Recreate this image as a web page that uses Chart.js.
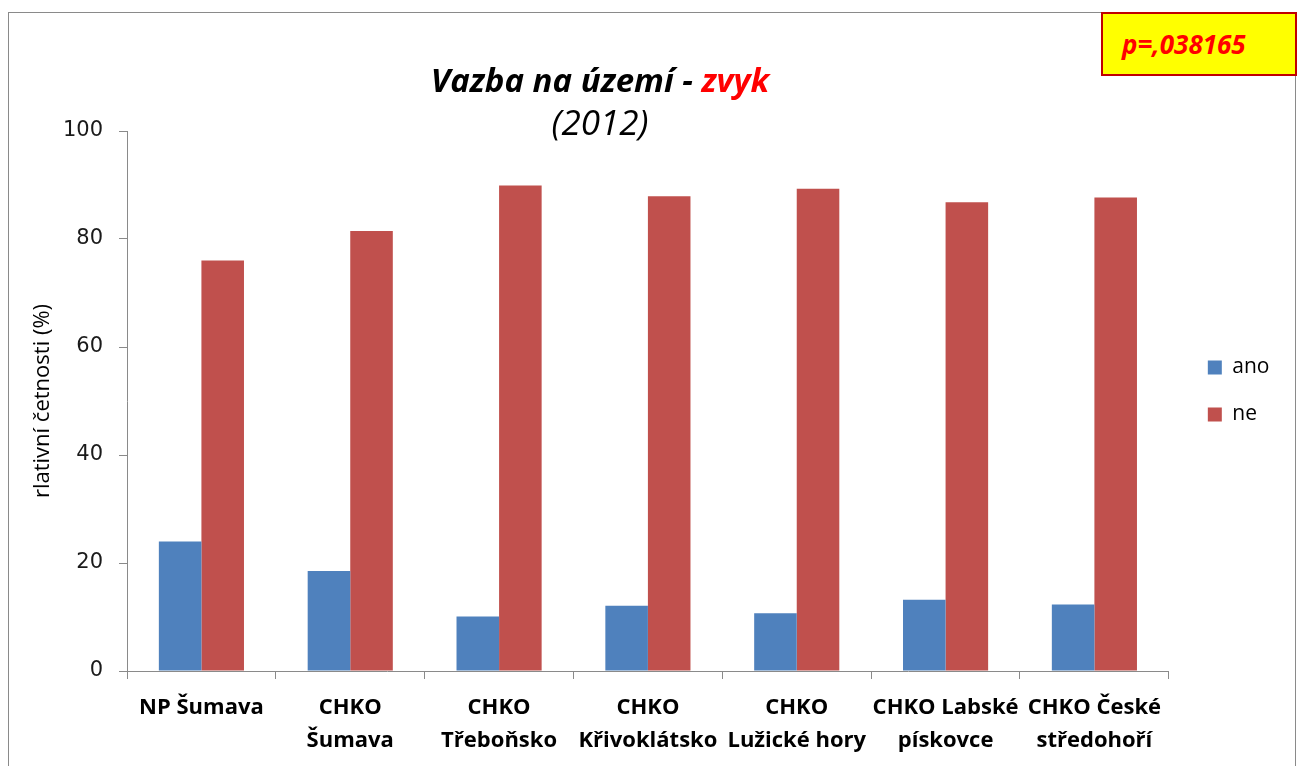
<!DOCTYPE html>
<html>
<head>
<meta charset="utf-8">
<script src="https://cdn.jsdelivr.net/npm/chart.js@4"></script>
<style>
  html, body { margin: 0; padding: 0; background: #fff; }
  #wrap { position: relative; width: 1304px; height: 766px; overflow: hidden; background: #fff; }
  #frame { position: absolute; left: 8px; top: 12px; width: 1288px; height: 800px; border: 1px solid #8a8a8a; box-sizing: border-box; }
  #c { position: absolute; left: 0; top: 0; }
  #title1 { position: absolute; left: 300px; width: 600px; top: 63px; text-align: center; font: italic 700 33px/33px "Open Sans"; color: #000; white-space: nowrap; }
  #title1 .red { color: #ff0000; }
  #title2 { position: absolute; left: 300px; width: 600px; top: 104px; text-align: center; font: italic 400 35px/35px "Open Sans"; color: #000; white-space: nowrap; }
  #pbox { position: absolute; left: 1101px; top: 12px; width: 196px; height: 64px; box-sizing: border-box; background: #ffff00; border: 2px solid #c00000; font: italic 700 26px/60px "Open Sans"; color: #ff0000; padding-left: 19px; white-space: nowrap; }
</style>
</head>
<body>
<div id="wrap">
  <div id="frame"></div>
  <canvas id="c" width="1304" height="766"></canvas>
  <div id="title1">Vazba na území - <span class="red">zvyk</span></div>
  <div id="title2">(2012)</div>
  <div id="pbox">p=,038165</div>
</div>
<script>
const categories = [
  ["NP Šumava"],
  ["CHKO", "Šumava"],
  ["CHKO", "Třeboňsko"],
  ["CHKO", "Křivoklátsko"],
  ["CHKO", "Lužické hory"],
  ["CHKO Labské", "pískovce"],
  ["CHKO České", "středohoří"]
];
const seriesNames = ["ano", "ne"];
const anoValues = [24.0, 18.5, 10.1, 12.1, 10.7, 13.2, 12.3];
const neValues  = [76.0, 81.5, 89.9, 87.9, 89.3, 86.8, 87.7];
const yTicks = [0, 20, 40, 60, 80, 100];

const nudgeLegend = {
  id: 'nudgeLegend',
  afterLayout(chart) {
    const lg = chart.legend;
    if (!lg) return;
    lg.left += 13; lg.right += 13;
    lg.top -= 10; lg.bottom -= 10;
  }
};

new Chart(document.getElementById('c'), {
  type: 'bar',
  data: {
    labels: categories,
    datasets: [
      { label: seriesNames[0], data: anoValues, backgroundColor: '#4f81bd', borderWidth: 0 },
      { label: seriesNames[1], data: neValues, backgroundColor: '#c0504d', borderWidth: 0 }
    ]
  },
  options: {
    responsive: false,
    animation: false,
    devicePixelRatio: 1,
    layout: { padding: { left: 0, top: 131, right: 37.5, bottom: 0 } },
    datasets: { bar: { categoryPercentage: 0.572, barPercentage: 1.0 } },
    plugins: {
      title: { display: false },
      tooltip: { enabled: false },
      legend: {
        position: 'right',
        fullSize: false,
        labels: {
          boxWidth: 14, boxHeight: 14, padding: 26,
          color: '#000',
          font: { family: 'Open Sans', size: 21 }
        }
      }
    },
    scales: {
      x: {
        grid: { display: true, drawOnChartArea: false, drawTicks: true, tickLength: 8, color: '#8a8a8a', offset: true },
        border: { display: true, color: '#8a8a8a', width: 1 },
        ticks: {
          color: '#000', padding: 12, maxRotation: 0, autoSkip: false,
          font: { family: 'Open Sans', size: 22, weight: 'bold', lineHeight: 1.5 }
        },
        afterFit(scale) { scale.height = 95; }
      },
      y: {
        min: 0, max: 100,
        afterBuildTicks(scale) { scale.ticks = yTicks.map(v => ({ value: v })); },
        grid: { display: true, drawOnChartArea: false, drawTicks: true, tickLength: 8, color: '#8a8a8a' },
        border: { display: true, color: '#8a8a8a', width: 1 },
        ticks: { color: '#1a1a1a', padding: 16, font: { family: 'DejaVu Sans', size: 21 } },
        title: {
          display: true, text: 'rlativní četnosti (%)', color: '#000',
          font: { family: 'Open Sans', size: 22 }, padding: { top: 30, bottom: 0 }
        },
        afterFit(scale) { scale.width = 127; }
      }
    }
  },
  plugins: [nudgeLegend]
});
</script>
</body>
</html>
